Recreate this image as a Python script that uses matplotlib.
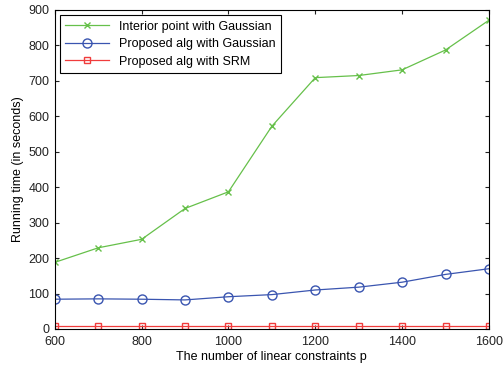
import matplotlib.pyplot as plt

plt.rcParams['font.family'] = ['Liberation Sans', 'DejaVu Sans']

p = [600, 700, 800, 900, 1000, 1100, 1200, 1300, 1400, 1500, 1600]
interior_gauss = [188, 229, 253, 340, 387, 572, 709, 715, 731, 787, 871]
proposed_gauss = [84, 85, 84, 82, 91, 97, 110, 118, 132, 154, 170]
proposed_srm = [8, 8, 8, 8, 8, 8, 8, 8, 8, 8, 8]

fig = plt.figure(figsize=(5.03, 3.68), dpi=100)
ax = fig.add_axes([0.109, 0.106, 0.863, 0.867])

ax.plot(p, interior_gauss, color="#66c04a", marker="x", markersize=4.5,
        linewidth=0.9, label="Interior point with Gaussian")
ax.plot(p, proposed_gauss, color="#3a55b0", marker="o", markersize=6.5,
        markerfacecolor="none", linewidth=0.9, label="Proposed alg with Gaussian")
ax.plot(p, proposed_srm, color="#f03c3c", marker="s", markersize=5,
        markerfacecolor="none", linewidth=0.9, label="Proposed alg with SRM")

ax.set_xlim(600, 1600)
ax.set_ylim(0, 900)
ax.set_xticks(range(600, 1601, 200))
ax.set_yticks(range(0, 901, 100))
ax.tick_params(direction="in", top=True, right=True, labelsize=9, length=3, colors="#222222")
ax.tick_params(axis="x", pad=5)
ax.tick_params(axis="y", pad=4)
for s in ax.spines.values():
    s.set_linewidth(0.8)

ax.set_xlabel("The number of linear constraints p", fontsize=9, labelpad=2)
ax.set_ylabel("Running time (in seconds)", fontsize=9, labelpad=3)

leg = ax.legend(loc="upper left", fontsize=9, fancybox=False, framealpha=1,
                edgecolor="black", borderaxespad=0.4, handlelength=3.5,
                labelspacing=0.45, borderpad=0.45)
leg.get_frame().set_linewidth(0.8)

fig.savefig("out.png", dpi=100)
